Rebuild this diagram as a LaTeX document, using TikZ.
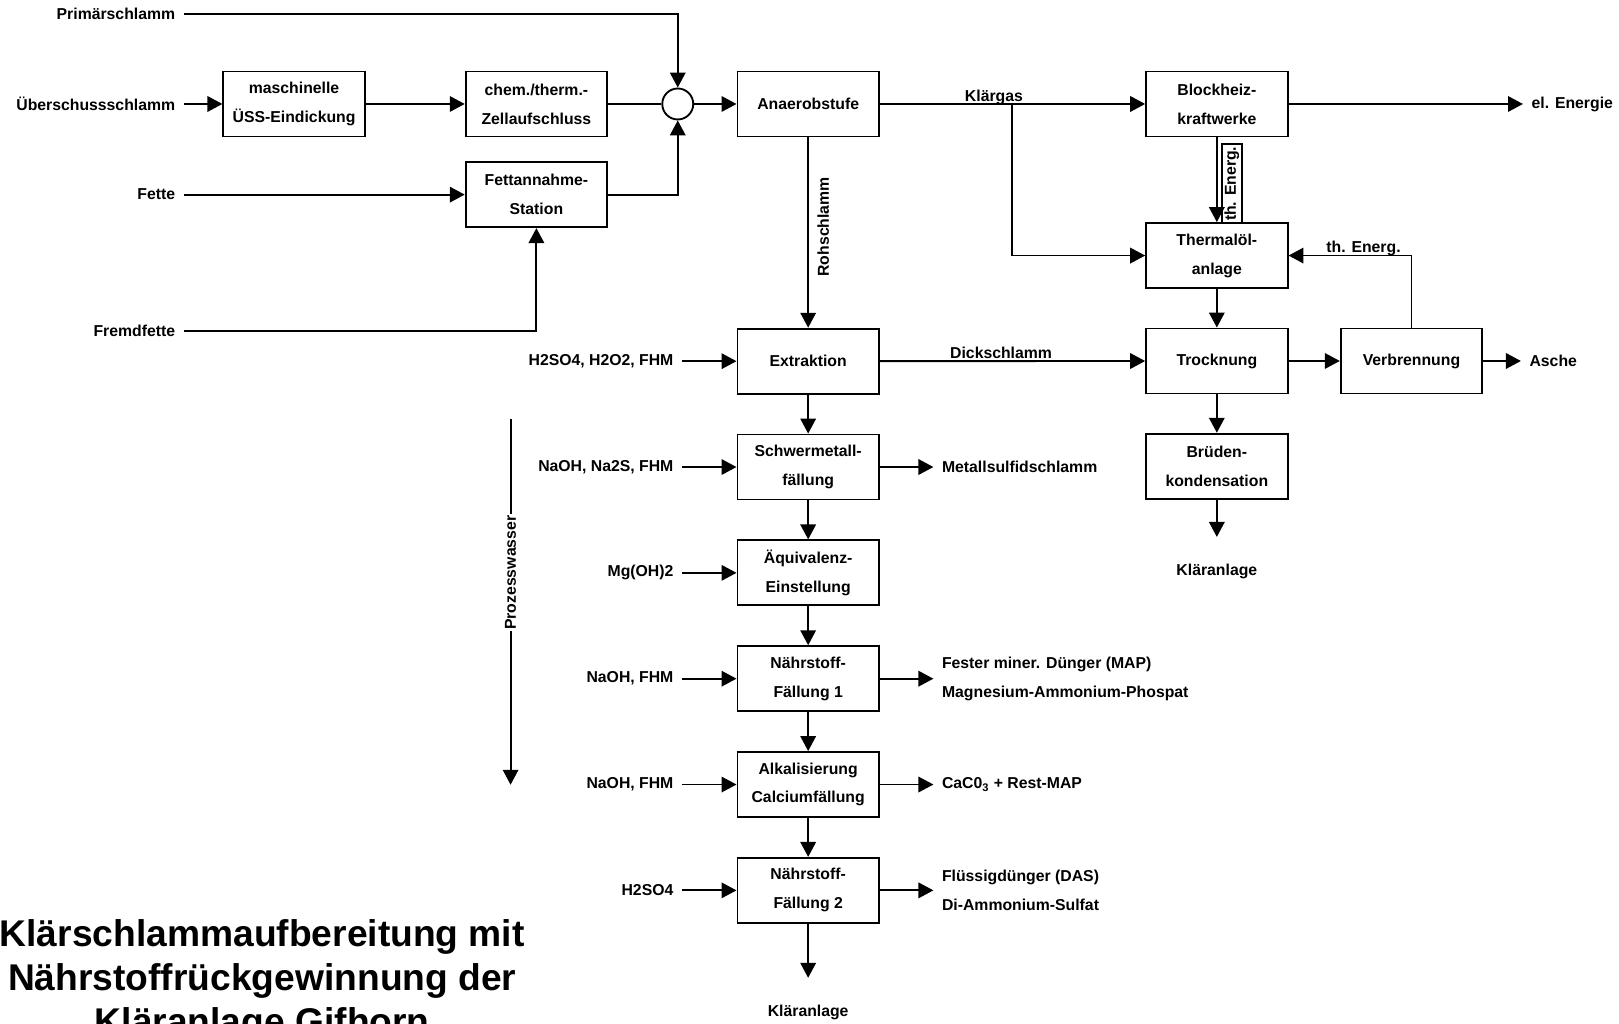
\documentclass[tikz,border=0pt]{standalone}
\usepackage{fontspec}
\setmainfont{Liberation Sans}
\usetikzlibrary{arrows.meta}

\newcommand{\boxfont}{\bfseries\fontsize{8.7}{15.9}\selectfont}
\newcommand{\titlefont}{\bfseries\fontsize{20.5}{24.3}\selectfont}

\tikzset{
  flow/.style={line width=0.36mm, -{Triangle[length=2.9mm, width=3mm]}},
  plain/.style={line width=0.36mm},
  box/.style={draw, line width=0.36mm, minimum width=27.4mm, minimum height=12.6mm,
              align=center, inner sep=0.5mm, font=\boxfont},
  lbl/.style={inner sep=1.6mm, font=\boxfont},
  online/.style={inner sep=0pt, font=\boxfont},
  tagbox/.style={draw, line width=0.3mm, inner sep=0.5mm, font=\boxfont},
  titletext/.style={inner sep=0pt, font=\titlefont}
}

\begin{document}
\begin{tikzpicture}[x=0.2mm, y=-0.2mm]

  \useasboundingbox (0,0) rectangle (1568,991);
  \clip (0,0) rectangle (1568,991);

  % inputs on the left
  \foreach \name/\y/\txt in {prim/13.6/Primärschlamm, ueber/100.7/Überschussschlamm,
                             fette/188.5/Fette, fremd/320.6/Fremdfette}
    \node[lbl, anchor=east] (\name) at (178,\y) {\txt};

  \node[box] (eind) at (284.8,100.7) {maschinelle\\ÜSS-Eindickung};
  \node[box] (zell) at (519.5,100.7) {chem./therm.-\\Zellaufschluss};
  \node[box] (fett) at (519.5,188.5) {Fettannahme-\\Station};
  \node[circle, draw, line width=0.36mm, minimum size=6mm, inner sep=0pt] (mix) at (656.4,100.7) {};
  \node[box] (anaer) at (782.7,100.7) {Anaerobstufe};
  \node[box] (bhkw) at (1178.5,100.7) {Blockheiz-\\kraftwerke};
  \node[box] (therm) at (1178.5,247.5) {Thermalöl-\\anlage};
  \node[box] (trock) at (1178.5,349.6) {Trocknung};
  \node[box] (verbr) at (1367,349.6) {Verbrennung};
  \node[box] (brued) at (1178.5,451.5) {Brüden-\\kondensation};

  \draw[flow] (prim) -| (mix);
  \draw[flow] (ueber) -- (eind);
  \draw[flow] (eind) -- (zell);
  \draw[flow] (fette) -- (fett);
  \draw[flow] (fremd) -| (fett);
  \draw[flow] (fett) -| (mix);
  \draw[plain] (zell) -- (mix);
  \draw[flow] (mix) -- (anaer);

  % gas and energy
  \draw[flow] (anaer) -- node[online, pos=0.43, anchor=base, yshift=0.5mm] (klaergas) {Klärgas} (bhkw);
  \coordinate (split) at (980.4,100.7);
  \draw[flow] (split) |- (therm);
  \node[lbl, anchor=west] (elen) at (1475,100.7) {el. Energie};
  \draw[flow] (bhkw) -- (elen);
  \draw[flow] (bhkw) -- (therm);
  \node[tagbox, rotate=90] (theng) at (1193,178) {th. Energ.};
  \draw[flow] (verbr) |- node[online, pos=0.695, anchor=base, yshift=0.5mm] (thenh) {th. Energ.} (therm);

  % drying line
  \draw[flow] (therm) -- (trock);
  \draw[flow] (trock) -- (verbr);
  \node[lbl, anchor=west] (asche) at (1473,349.6) {Asche};
  \draw[flow] (verbr) -- (asche);
  \draw[flow] (trock) -- (brued);
  \coordinate (bruedout) at (1178.5,520);
  \draw[flow] (brued) -- (bruedout);
  \node[lbl] (klaer1) at (1178.5,553.5) {Kläranlage};

  % extraction and precipitation chain
  \foreach \name/\txt/\inp [count=\n from 0] in {extr/Extraktion/{H2SO4, H2O2, FHM},
        schwer/{Schwermetall-\\fällung}/{NaOH, Na2S, FHM},
        aequi/{Äquivalenz-\\Einstellung}/{Mg(OH)2},
        naehr1/{Nährstoff-\\Fällung 1}/{NaOH, FHM},
        alkal/{Alkalisierung\\Calciumfällung}/{NaOH, FHM},
        naehr2/{Nährstoff-\\Fällung 2}/{H2SO4}} {
    \node[box] (\name) at (782.7, {349.8+102.5*\n}) {\txt};
    \node[lbl, anchor=east] (in\n) at (660.5, {349.8+102.5*\n}) {\inp};
    \draw[flow] (in\n) -- (\name);
  }
  \foreach \a/\b in {extr/schwer, schwer/aequi, aequi/naehr1, naehr1/alkal, alkal/naehr2}
    \draw[flow] (\a) -- (\b);

  \draw[flow] (anaer) -- node[lbl, pos=0.47, rotate=90, anchor=north] (rohs) {Rohschlamm} (extr);
  \draw[flow] (extr) -- node[online, pos=0.457, anchor=base, yshift=0.5mm] (dicks) {Dickschlamm} (trock);

  \node[lbl, anchor=west] (out1) at (904,452.3) {Metallsulfidschlamm};
  \node[lbl, anchor=west, align=left] (out2) at (904,657.3) {Fester miner. Dünger (MAP)\\Magnesium-Ammonium-Phospat};
  \node[lbl, anchor=west] (out3) at (904,759.8) {CaC0\textsubscript{3} + Rest-MAP};
  \node[lbl, anchor=west, align=left] (out4) at (904,862.3) {Flüssigdünger (DAS)\\Di-Ammonium-Sulfat};
  \foreach \a/\b in {schwer/out1, naehr1/out2, alkal/out3, naehr2/out4}
    \draw[flow] (\a) -- (\b);

  \coordinate (chainout) at (782.7,947);
  \draw[flow] (naehr2) -- (chainout);
  \node[lbl] (klaer2) at (782.7,981) {Kläranlage};

  % process water
  \coordinate (pwtop) at (494.5,406);
  \coordinate (pwend) at (494.5,760);
  \draw[flow] (pwtop) -- node[pos=0.42, rotate=90, fill=white, inner sep=0.3mm, font=\boxfont] (pw) {Prozesswasser} (pwend);

  \foreach \txt [count=\n from 0] in {Klärschlammaufbereitung mit, Nährstoffrückgewinnung der, Kläranlage Gifhorn}
    \node[titletext, anchor=base] (title\n) at (254, {917+42.6*\n}) {\txt};

\end{tikzpicture}
\end{document}
